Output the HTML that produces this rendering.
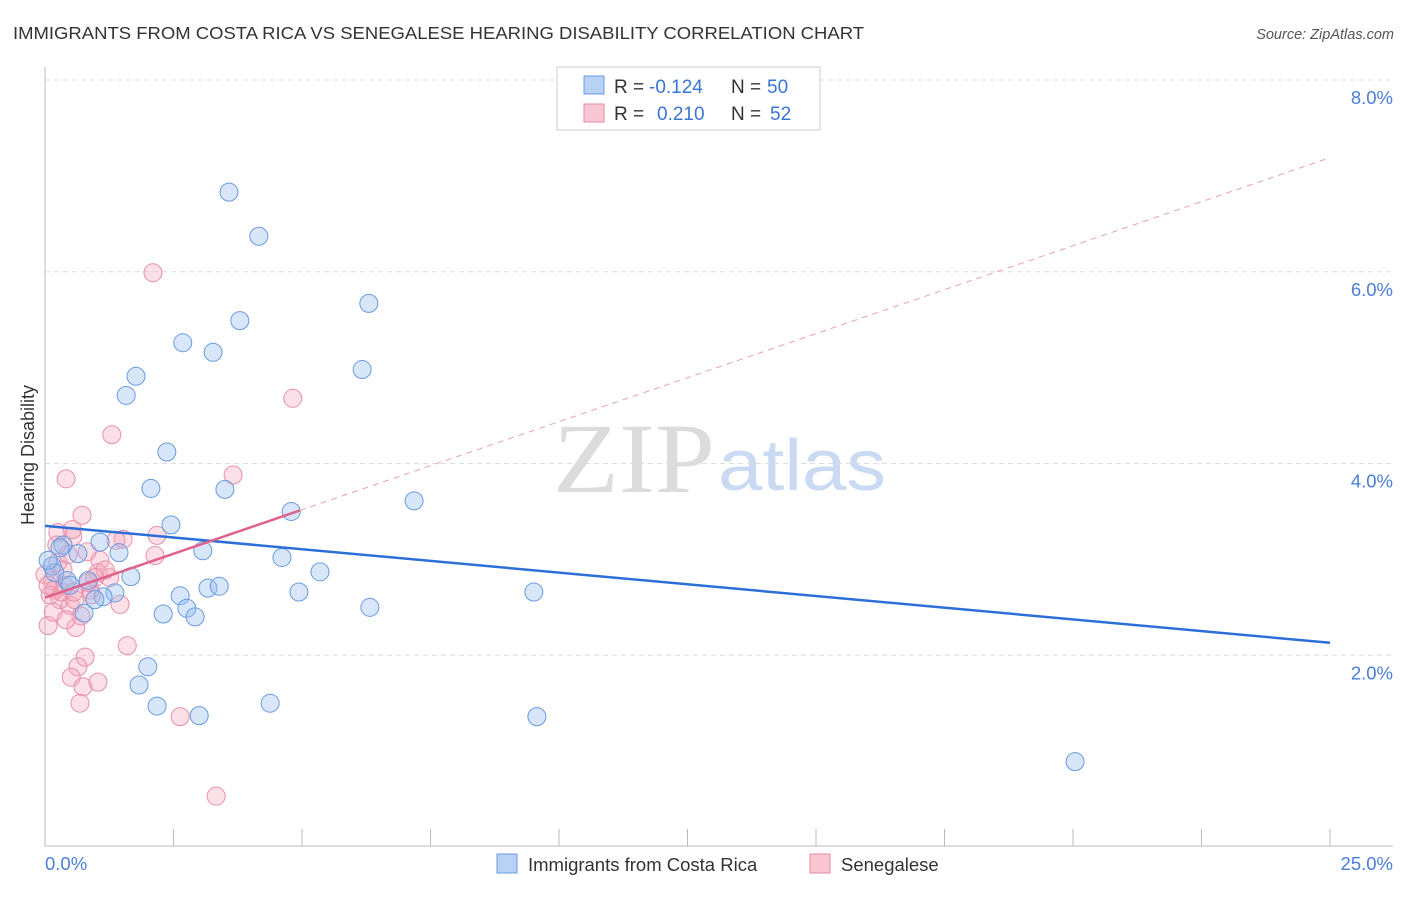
<!DOCTYPE html>
<html><head><meta charset="utf-8"><style>
body{margin:0;background:#fff;font-family:"Liberation Sans",sans-serif}
svg text{font-family:"Liberation Sans",sans-serif}
</style></head><body>
<svg id="c" width="1406" height="892" xmlns="http://www.w3.org/2000/svg">
<text x="13" y="39" font-size="17.5" fill="#333" textLength="851" lengthAdjust="spacingAndGlyphs">IMMIGRANTS FROM COSTA RICA VS SENEGALESE HEARING DISABILITY CORRELATION CHART</text>
<text x="1394" y="39" font-size="14.5" fill="#555" font-style="italic" text-anchor="end">Source: ZipAtlas.com</text>
<text x="553" y="492" font-size="100" fill="#dcdcdc" style="font-family:'Liberation Serif',serif" textLength="162" lengthAdjust="spacingAndGlyphs">ZIP</text>
<text x="718" y="490" font-size="72" fill="#c9daf2" textLength="168" lengthAdjust="spacingAndGlyphs">atlas</text>
<text x="34" y="455" font-size="18" fill="#333" text-anchor="middle" transform="rotate(-90 34 455)">Hearing Disability</text>
<g id="grid"></g><g id="pts"></g><g id="lines"></g>
<g>
<rect x="557" y="67" width="263" height="63" fill="#fff" stroke="#ccc"/>
<rect x="584" y="76" width="20" height="18" fill="#b8d2f5" stroke="#6a9be0"/>
<rect x="584" y="104" width="20" height="18" fill="#f9c6d4" stroke="#e68aa5"/>
<text x="614" y="93" font-size="19" fill="#333">R =</text>
<text x="649" y="93" font-size="19" fill="#3a74d4">-0.124</text>
<text x="731" y="93" font-size="19" fill="#333">N =</text>
<text x="767" y="93" font-size="19" fill="#3a74d4">50</text>
<text x="614" y="120" font-size="19" fill="#333">R =</text>
<text x="657" y="120" font-size="19" fill="#3a74d4">0.210</text>
<text x="731" y="120" font-size="19" fill="#333">N =</text>
<text x="770" y="120" font-size="19" fill="#3a74d4">52</text>
</g>
<g>
<rect x="497" y="854" width="20" height="19" fill="#b8d2f5" stroke="#6a9be0"/>
<text x="528" y="871" font-size="18.5" fill="#333">Immigrants from Costa Rica</text>
<rect x="810" y="854" width="20" height="19" fill="#f9c6d4" stroke="#e68aa5"/>
<text x="841" y="871" font-size="18.5" fill="#333">Senegalese</text>
</g>
</svg>
<script>
const blueX=[3.58,4.16,6.30,3.79,2.68,3.27,6.17,1.77,1.58,2.37,2.06,3.50,7.18,4.79,2.45,1.07,0.35,3.07,0.64,1.44,4.61,5.35,1.67,0.84,1.36,2.63,1.13,3.17,3.39,4.94,9.51,2.76,6.32,2.30,2.92,0.76,0.97,2.00,1.83,2.18,3.00,4.38,9.57,20.04,0.14,0.19,0.29,0.43,0.06,0.49];
const blueY=[6.83,6.37,5.67,5.49,5.26,5.16,4.98,4.91,4.71,4.12,3.74,3.73,3.61,3.50,3.36,3.18,3.15,3.09,3.06,3.07,3.02,2.87,2.82,2.78,2.65,2.62,2.61,2.70,2.72,2.66,2.66,2.49,2.50,2.43,2.40,2.44,2.58,1.88,1.69,1.47,1.37,1.50,1.36,0.89,2.93,2.86,3.12,2.78,2.99,2.73];
const pinkX=[2.10,4.82,1.30,3.66,0.41,0.72,0.54,2.18,1.52,1.38,0.25,0.82,2.14,1.03,1.26,0.37,0.88,1.46,0.29,0.49,1.60,0.60,0.70,0.06,0.78,0.64,0.51,0.74,1.03,0.68,2.63,3.33,0.14,0.19,0.10,0.33,0.0,0.06,0.25,0.58,0.91,1.07,0.45,0.16,0.41,0.53,1.17,0.23,0.84,0.56,0.35,0.97];
const pinkY=[5.99,4.68,4.30,3.88,3.84,3.46,3.24,3.25,3.21,3.20,3.28,3.08,3.04,2.86,2.81,2.73,2.68,2.53,2.58,2.52,2.10,2.29,2.41,2.31,1.98,1.88,1.77,1.67,1.72,1.50,1.36,0.53,2.78,2.68,2.63,2.66,2.84,2.73,2.97,2.58,2.63,2.99,3.05,2.45,2.37,3.31,2.89,3.15,2.76,2.66,2.89,2.81];
const yTicks=[2,4,6,8];
const blueTrend=[3.35,2.13];
const pinkTrend=[2.60,7.19];
const pinkSolidEnd=4.96;
const NS="http://www.w3.org/2000/svg";
const sx=v=>45+v*(1285/25), sy=v=>847-v*95.875;
function mk(t,a,p){const e=document.createElementNS(NS,t);for(const k in a)e.setAttribute(k,a[k]);p.appendChild(e);return e;}
const svg=document.getElementById('c'),grid=document.getElementById('grid'),pts=document.getElementById('pts'),lines=document.getElementById('lines');
const ax=mk('line',{x1:45,y1:67,x2:45,y2:846,stroke:'#bbb'},grid);


const bx=mk('line',{x1:45,y1:846,x2:1393,y2:846,stroke:'#bbb'},grid);


for(let i=0;i<=10;i++){const t=mk('line',{x1:sx(i*2.5),y1:829,x2:sx(i*2.5),y2:846,stroke:'#bbb'},grid);

}
yTicks.forEach(v=>{const g=mk('line',{x1:45,y1:sy(v),x2:1393,y2:sy(v),stroke:'#ddd','stroke-dasharray':'5,4'},grid);


const t=mk('text',{x:1393,y:sy(v)+24,'font-size':18.5,fill:'#4a7fd6','text-anchor':'end'},grid);t.textContent=v.toFixed(1)+'%';

});
const x0=mk('text',{x:45,y:870,'font-size':18.5,fill:'#4a7fd6'},grid);x0.textContent='0.0%';


const x1=mk('text',{x:1393,y:870,'font-size':18.5,fill:'#4a7fd6','text-anchor':'end'},grid);x1.textContent='25.0%';


pinkX.forEach((x,i)=>{const c=mk('circle',{cx:sx(x),cy:sy(pinkY[i]),r:9,fill:'rgba(245,165,188,0.35)',stroke:'#e88fa9','stroke-width':1},pts);

});
blueX.forEach((x,i)=>{const c=mk('circle',{cx:sx(x),cy:sy(blueY[i]),r:9,fill:'rgba(150,190,240,0.38)',stroke:'#6a9be0','stroke-width':1},pts);

});
const bl=mk('line',{x1:sx(0),y1:sy(blueTrend[0]),x2:sx(25),y2:sy(blueTrend[1]),stroke:'#2d6fd6','stroke-width':2.5},lines);


const pe=pinkTrend[0]+(pinkTrend[1]-pinkTrend[0])*pinkSolidEnd/25;
const pd=mk('line',{x1:sx(pinkSolidEnd),y1:sy(pe),x2:sx(25),y2:sy(pinkTrend[1]),stroke:'#e8a0b6','stroke-width':1,'stroke-dasharray':'6,5'},lines);


const ps=mk('line',{x1:sx(0),y1:sy(pinkTrend[0]),x2:sx(pinkSolidEnd),y2:sy(pe),stroke:'#e0628a','stroke-width':2.5},lines);


</script>
</body></html>
